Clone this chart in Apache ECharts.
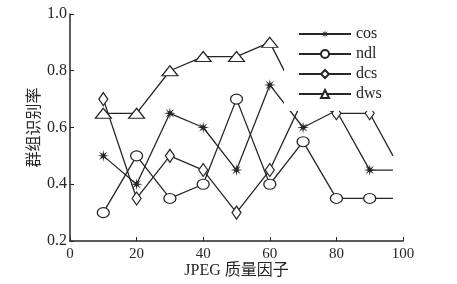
<!DOCTYPE html>
<html><head><meta charset="utf-8">
<script src="https://cdn.jsdelivr.net/npm/echarts@6/dist/echarts.min.js"></script>
<style>html,body{margin:0;padding:0;background:#fff}#c{width:457px;height:284px}</style>
</head><body><div id="c"></div>
<script>
// ---- data ----
var xs      = [10, 20, 30, 40, 50, 60, 70, 80, 90, 97];
var cosVals = [0.50, 0.40, 0.65, 0.60, 0.45, 0.75, 0.60, 0.66, 0.45, 0.45];
var ndlVals = [0.30, 0.50, 0.35, 0.40, 0.70, 0.40, 0.55, 0.35, 0.35, 0.35];
var dcsVals = [0.70, 0.35, 0.50, 0.45, 0.30, 0.45, 0.70, 0.65, 0.65, 0.50];
var dwsVals = [0.65, 0.65, 0.80, 0.85, 0.85, 0.90, 0.67, 0.67, 0.67];
var seriesNames = ['cos', 'ndl', 'dcs', 'dws'];
var xTicks = [0, 20, 40, 60, 80, 100];
var yTicks = [0.2, 0.4, 0.6, 0.8, 1.0];
var xName = 'JPEG 质量因子';
var yName = '群组识别率';

// ---- styling ----
var ink = '#262626';
var serif = '"Liberation Serif","DejaVu Serif",serif';
function starPath(){
  var pts = [], n = 8, R = 10, r = 3.2;
  for (var i = 0; i < n*2; i++){
    var a = Math.PI * i / n - Math.PI/2;
    var rad = (i % 2 === 0) ? R : r;
    pts.push((10 + rad*Math.cos(a)).toFixed(2) + ' ' + (10 + rad*Math.sin(a)).toFixed(2));
  }
  return 'path://M' + pts.join(' L') + ' Z';
}
function pairs(vals, lastMarked){
  return vals.map(function(v, i){
    var d = {value: [xs[i], v]};
    if (i > lastMarked) d.symbol = 'none';
    return d;
  });
}
var common = {
  type: 'line', showAllSymbol: true, z: 2,
  lineStyle: {color: ink, width: 1.3},
  emphasis: {disabled: true}, animation: false
};
var hollow = {color: '#fff', borderColor: ink, borderWidth: 1.2};
var series = [
  Object.assign({}, common, {name: seriesNames[0], data: pairs(cosVals, 8),
    symbol: starPath(), symbolSize: 12, itemStyle: {color: ink, borderWidth: 0}}),
  Object.assign({}, common, {name: seriesNames[1], data: pairs(ndlVals, 8),
    symbol: 'circle', symbolSize: [12, 10], itemStyle: hollow}),
  Object.assign({}, common, {name: seriesNames[2], data: pairs(dcsVals, 8),
    symbol: 'diamond', symbolSize: [9, 13], itemStyle: hollow}),
  Object.assign({}, common, {name: seriesNames[3], data: pairs(dwsVals, 5),
    symbol: 'triangle', symbolSize: [16, 10], itemStyle: hollow})
];

var chart = echarts.init(document.getElementById('c'), null, {renderer: 'canvas'});
chart.setOption({
  animation: false,
  backgroundColor: '#fff',
  grid: {left: 70, right: 54, top: 14, bottom: 43, containLabel: false},
  legend: {
    data: seriesNames, orient: 'vertical',
    left: 284, top: 20,
    padding: [6, 12, 9, 14],
    backgroundColor: '#fff',
    itemWidth: 52, itemHeight: 10, itemGap: 4,
    textStyle: {fontFamily: serif, fontSize: 16, color: ink},
    z: 10
  },
  xAxis: {
    type: 'value', min: xTicks[0], max: xTicks[xTicks.length-1], interval: 20,
    name: xName, nameLocation: 'middle', nameGap: 22, nameMoveOverlap: false,
    nameTextStyle: {fontFamily: serif + ',"Noto Sans CJK SC"', fontSize: 16, color: ink},
    axisLine: {show: true, onZero: false, lineStyle: {color: ink, width: 1.5}},
    axisTick: {show: true, inside: true, length: 4, lineStyle: {color: ink}},
    axisLabel: {fontFamily: serif, fontSize: 15, color: ink, margin: 6},
    splitLine: {show: false}
  },
  yAxis: {
    type: 'value', min: yTicks[0], max: yTicks[yTicks.length-1], interval: 0.2,
    name: yName, nameLocation: 'middle', nameGap: 29, nameRotate: 90, nameMoveOverlap: false,
    nameTextStyle: {fontFamily: '"Noto Sans CJK SC"', fontSize: 16, color: ink},
    axisLine: {show: true, onZero: false, lineStyle: {color: ink, width: 1.5}},
    axisTick: {show: true, inside: true, length: 4, lineStyle: {color: ink}},
    axisLabel: {fontFamily: serif, fontSize: 16, color: ink, margin: 3,
      formatter: function(v){ return v.toFixed(1); }},
    splitLine: {show: false}
  },
  series: series
});
</script></body></html>
